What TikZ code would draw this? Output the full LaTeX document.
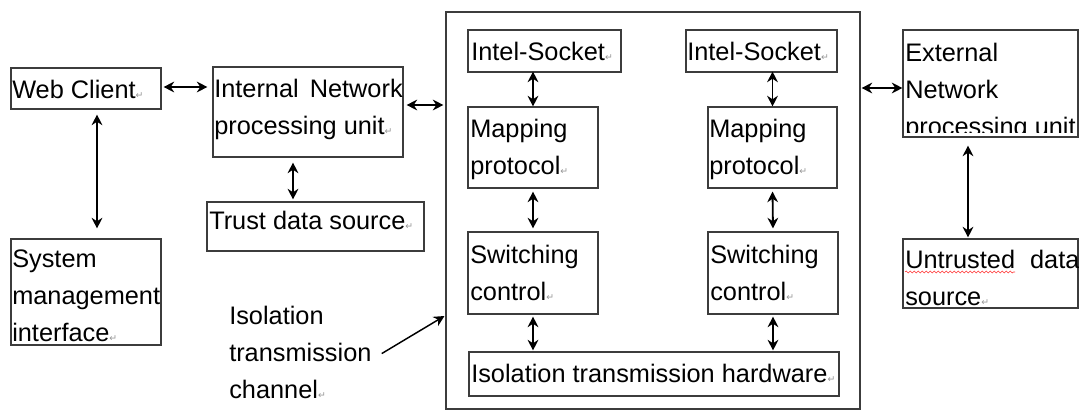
\documentclass[tikz,border=0pt]{standalone}
\usepackage{fontspec}
\setmainfont{Liberation Sans}
\newfontfamily\dejavu{DejaVu Sans}
\usetikzlibrary{arrows.meta,fit,calc,decorations.pathmorphing}
\definecolor{boxgray}{RGB}{60,60,60}
\definecolor{markgray}{RGB}{150,150,150}
\newcommand{\parmark}{{\dejavu\fontsize{7}{7}\selectfont\textcolor{markgray}{↵}}}
\begin{document}
\begin{tikzpicture}[x=0.75pt,y=-0.75pt,
  box/.style={draw=boxgray, line width=0.8pt, inner sep=0pt},
  txt/.style={anchor=north west, inner sep=0pt, align=left, font=\fontsize{19}{27.75}\selectfont},
  tip/.tip={Stealth[length=8pt,width=8pt,inset=2.6pt]},
  biarrow/.style={tip-tip, line width=1.35pt},
  onearrow/.style={-tip, line width=1.1pt},
  squiggle/.style={red!80, line width=0.4pt, decorate, decoration={snake, amplitude=0.7pt, segment length=3pt}}]
\useasboundingbox (0,0) rectangle (1079,410);

% boxes
\node[box, fit={(11,68) (161,109)}] (wc) {};
\node[box, fit={(213,67) (403,157)}] (inu) {};
\node[box, fit={(207,202) (424,251)}] (tr) {};
\node[box, fit={(11,239) (161,345)}] (sys) {};
\node[box, fit={(446,12) (860,409)}] (big) {};
\node[box, fit={(468,30) (621,72)}] (is1) {};
\node[box, fit={(686,30) (837,72)}] (is2) {};
\node[box, fit={(468,107) (598,188)}] (mp1) {};
\node[box, fit={(708,107) (837,188)}] (mp2) {};
\node[box, fit={(468,232) (598,314)}] (sw1) {};
\node[box, fit={(708,232) (838,314)}] (sw2) {};
\node[box, fit={(469,352) (839,396)}] (hw) {};
\node[box, fit={(903,30) (1078,137)}] (ext) {};
\node[box, fit={(903,239) (1078,308)}] (untr) {};

% texts
\node[txt] (wct) at (12,80) {Web Client\parmark};
\node[txt] (inut) at (214,79) {Internal\hspace{3pt} Network\\processing unit\parmark};
\node[txt] (trt) at (209,211) {Trust data source\parmark};
\node[txt] (syst) at (12,250) {System\\management\\interface\parmark};
\node[txt] (chant) at (229,306) {Isolation\\transmission\\channel\parmark};
\node[txt] (is1t) at (471,42) {Intel-Socket\parmark};
\node[txt] (is2t) at (687,42) {Intel-Socket\parmark};
\node[txt] (mp1t) at (470,119) {Mapping\\protocol\parmark};
\node[txt] (mp2t) at (709,119) {Mapping\\protocol\parmark};
\node[txt] (sw1t) at (470,245) {Switching\\control\parmark};
\node[txt] (sw2t) at (710,245) {Switching\\control\parmark};
\node[txt] (hwt) at (471,364) {Isolation transmission hardware\parmark};
\begin{scope}
  \clip (903,30) rectangle (1078,133);
  \node[txt] (extt) at (905,43) {External\\Network\\processing unit};
\end{scope}
\node[txt] (untt) at (905,250) {Untrusted\hspace{6pt} data\\source\parmark};
\draw[squiggle] (905,272) -- (1015,272);

% connectors
\draw[biarrow] ($(wc.east)+(2,-1.5)$) -- ($(inu.west |- wc.east)+(-5,-1.5)$);
\draw[biarrow] ($(inu.east)+(3,-7)$) -- ($(big.west |- inu.east)+(-2,-7)$);
\draw[biarrow] ($(wc.south)+(11,5)$) -- ($(sys.north -| wc.south)+(11,-10)$);
\draw[biarrow] ($(inu.south)+(-15,5)$) -- ($(tr.north -| inu.south)+(-15,-2)$);
\draw[biarrow] ($(mp1.north |- is1.south)+(0,-1)$) -- (mp1.north);
\draw[biarrow] ($(mp2.north |- is2.south)+(0,-1)$) -- (mp2.north);
\draw[biarrow] ($(mp1.south)+(0,3)$) -- ($(sw1.north)+(0,-3)$);
\draw[biarrow] ($(mp2.south)+(0,3)$) -- ($(sw2.north)+(0,-3)$);
\draw[biarrow] ($(sw1.south)+(0,2)$) -- ($(sw1.south |- hw.north)+(0,-1)$);
\draw[biarrow] ($(sw2.south)+(0,2)$) -- ($(sw2.south |- hw.north)+(0,-1)$);
\draw[biarrow] ($(big.east |- ext.west)+(1,4.5)$) -- ($(ext.west)+(0,4.5)$);
\draw[biarrow] ($(ext.south)+(-22.5,8)$) -- ($(untr.north -| ext.south)+(-22.5,-1)$);
\draw[onearrow] ($(chant.east)+(10,1)$) -- ($(big.west)+(-1,105.5)$);
\end{tikzpicture}
\end{document}
